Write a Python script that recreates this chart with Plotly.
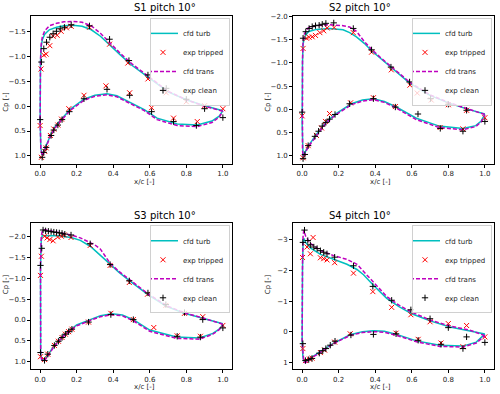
import plotly.graph_objects as go
from plotly.subplots import make_subplots

# ---- S1 ----
s1_up_x = [0.0, 0.002, 0.006, 0.012, 0.025, 0.05, 0.09, 0.13, 0.18, 0.23, 0.28, 0.33, 0.38, 0.44, 0.5, 0.6, 0.7, 0.8, 0.9, 0.95, 1.0]
s1_turb_up = [0.3, -0.9, -1.2, -1.34, -1.45, -1.54, -1.59, -1.62, -1.63, -1.61, -1.54, -1.41, -1.24, -1.03, -0.83, -0.56, -0.29, -0.13, -0.01, 0.04, 0.09]
s1_trans_up = [0.3, -0.95, -1.25, -1.40, -1.52, -1.62, -1.67, -1.70, -1.71, -1.69, -1.62, -1.47, -1.28, -1.06, -0.86, -0.58, -0.30, -0.13, 0.0, 0.05, 0.1]
s1_lo_x = [0.0, 0.004, 0.012, 0.025, 0.056, 0.08, 0.11, 0.166, 0.24, 0.3, 0.366, 0.42, 0.475, 0.57, 0.64, 0.75, 0.86, 0.94, 0.98, 1.0]
s1_turb_lo = [0.3, 0.85, 0.98, 0.86, 0.59, 0.43, 0.29, 0.06, -0.14, -0.22, -0.25, -0.21, -0.11, 0.07, 0.24, 0.36, 0.38, 0.30, 0.2, 0.09]
s1_trans_lo = [0.3, 0.87, 1.0, 0.88, 0.61, 0.45, 0.31, 0.08, -0.12, -0.2, -0.23, -0.19, -0.09, 0.09, 0.27, 0.39, 0.41, 0.33, 0.22, 0.1]
s1_trip_x = [0.005, 0.02, 0.033, 0.053, 0.071, 0.093, 0.115, 0.144, 0.17, 0.27, 0.38, 0.48, 0.59, 0.69, 0.8, 0.9, 1.0,
             0.0, 0.007, 0.025, 0.033, 0.056, 0.075, 0.097, 0.117, 0.157, 0.24, 0.36, 0.49, 0.61, 0.73, 0.86]
s1_trip_cp = [-0.75, -1.03, -1.05, -1.22, -1.41, -1.43, -1.51, -1.58, -1.61, -1.59, -1.25, -0.87, -0.55, -0.27, -0.09, -0.01, 0.05,
              0.39, 1.03, 0.91, 0.84, 0.59, 0.46, 0.38, 0.26, 0.05, -0.22, -0.41, -0.27, 0.03, 0.24, 0.31]
s1_clean_x = [0.007, 0.02, 0.035, 0.053, 0.071, 0.089, 0.11, 0.133, 0.17, 0.27, 0.38, 0.486, 0.59, 0.69, 0.8, 0.9, 1.0,
              0.0, 0.011, 0.02, 0.033, 0.06, 0.075, 0.097, 0.12, 0.16, 0.24, 0.366, 0.49, 0.61, 0.73, 0.855]
s1_clean_cp = [-0.89, -1.16, -1.29, -1.39, -1.46, -1.51, -1.56, -1.59, -1.64, -1.62, -1.35, -0.92, -0.63, -0.36, -0.14, 0.05, 0.23,
               0.27, 1.03, 0.93, 0.83, 0.59, 0.48, 0.38, 0.27, 0.11, -0.15, -0.34, -0.22, 0.11, 0.31, 0.39]

# ---- S2 ----
s2_up_x = [0.0, 0.002, 0.005, 0.012, 0.033, 0.078, 0.15, 0.224, 0.26, 0.297, 0.34, 0.38, 0.43, 0.48, 0.59, 0.7, 0.8, 0.9, 0.95, 1.0]
s2_turb_up = [0.3, -1.0, -1.39, -1.55, -1.67, -1.72, -1.74, -1.71, -1.65, -1.56, -1.42, -1.26, -1.09, -0.92, -0.56, -0.3, -0.14, -0.01, 0.05, 0.1]
s2_trans_up = [0.3, -1.05, -1.45, -1.62, -1.75, -1.80, -1.82, -1.80, -1.77, -1.68, -1.46, -1.29, -1.11, -0.94, -0.58, -0.31, -0.15, -0.02, 0.05, 0.11]
s2_lo_x = [0.0, 0.002, 0.005, 0.015, 0.033, 0.078, 0.133, 0.19, 0.27, 0.33, 0.39, 0.45, 0.515, 0.625, 0.75, 0.88, 0.95, 0.98, 1.0]
s2_turb_lo = [0.3, 0.85, 1.0, 0.93, 0.79, 0.54, 0.26, 0.08, -0.12, -0.2, -0.23, -0.17, -0.05, 0.19, 0.36, 0.41, 0.35, 0.25, 0.11]
s2_trans_lo = [0.3, 0.86, 1.01, 0.95, 0.81, 0.56, 0.28, 0.1, -0.1, -0.18, -0.21, -0.15, -0.03, 0.22, 0.39, 0.44, 0.37, 0.27, 0.12]
s2_trip_x = [0.005, 0.024, 0.038, 0.055, 0.073, 0.097, 0.118, 0.137, 0.175, 0.28, 0.38, 0.488, 0.59, 0.63, 0.707, 0.8, 0.9, 1.0,
             0.0, 0.005, 0.033, 0.078, 0.106, 0.128, 0.15, 0.265, 0.39, 0.51, 0.755, 0.88]
s2_trip_cp = [-1.31, -1.53, -1.55, -1.56, -1.59, -1.65, -1.69, -1.75, -1.76, -1.65, -1.23, -0.85, -0.52, -0.35, -0.2, -0.1, 0.02, 0.18,
              0.14, 1.04, 0.78, 0.56, 0.40, 0.26, 0.09, -0.14, -0.25, -0.06, 0.39, 0.42]
s2_clean_x = [0.005, 0.02, 0.038, 0.055, 0.073, 0.093, 0.11, 0.13, 0.173, 0.28, 0.38, 0.486, 0.588, 0.703, 0.8, 0.9, 1.0,
              0.0, 0.005, 0.015, 0.033, 0.07, 0.09, 0.11, 0.13, 0.15, 0.18, 0.26, 0.39, 0.51, 0.634, 0.756, 0.88]
s2_clean_cp = [-1.53, -1.67, -1.74, -1.78, -1.80, -1.81, -1.83, -1.85, -1.86, -1.74, -1.28, -0.91, -0.59, -0.23, -0.11, 0.02, 0.26,
               0.06, 1.06, 0.97, 0.78, 0.58, 0.47, 0.36, 0.28, 0.21, 0.11, -0.12, -0.23, -0.05, 0.1, 0.41, 0.47]

# ---- S3 ----
s3_up_x = [0.0, 0.002, 0.006, 0.012, 0.02, 0.05, 0.1, 0.17, 0.22, 0.274, 0.3, 0.33, 0.36, 0.383, 0.43, 0.49, 0.59, 0.69, 0.79, 0.89, 0.95, 1.0]
s3_turb_up = [0.3, -1.2, -1.9, -2.04, -2.02, -2.02, -2.02, -1.98, -1.91, -1.77, -1.68, -1.56, -1.43, -1.34, -1.15, -0.94, -0.61, -0.33, -0.16, -0.04, 0.03, 0.09]
s3_trans_up = [0.3, -1.3, -2.0, -2.14, -2.17, -2.14, -2.1, -2.04, -1.97, -1.86, -1.8, -1.7, -1.52, -1.36, -1.17, -0.96, -0.63, -0.35, -0.17, -0.05, 0.03, 0.1]
s3_lo_x = [0.0, 0.003, 0.008, 0.02, 0.04, 0.074, 0.129, 0.2, 0.274, 0.33, 0.392, 0.45, 0.51, 0.6, 0.746, 0.873, 0.945, 0.98, 1.0]
s3_turb_lo = [0.3, 0.8, 0.93, 0.97, 0.86, 0.63, 0.36, 0.12, -0.01, -0.1, -0.15, -0.12, -0.01, 0.24, 0.41, 0.43, 0.32, 0.22, 0.11]
s3_trans_lo = [0.3, 0.82, 0.95, 0.99, 0.88, 0.65, 0.38, 0.14, 0.01, -0.08, -0.13, -0.1, 0.02, 0.27, 0.44, 0.46, 0.34, 0.23, 0.12]
s3_trip_x = [0.002, 0.007, 0.024, 0.038, 0.053, 0.071, 0.096, 0.116, 0.132, 0.169, 0.274, 0.383, 0.488, 0.588, 0.688, 0.79, 0.89, 1.0,
             0.002, 0.024, 0.042, 0.078, 0.1, 0.12, 0.138, 0.156, 0.174, 0.265, 0.387, 0.51, 0.622, 0.75, 0.877]
s3_trip_cp = [-1.07, -1.53, -2.01, -1.97, -1.93, -1.90, -1.99, -2.01, -2.04, -1.98, -1.79, -1.31, -0.90, -0.62, -0.35, -0.16, -0.08, 0.13,
              0.88, 0.95, 0.82, 0.61, 0.51, 0.42, 0.34, 0.28, 0.22, 0.05, -0.16, -0.01, 0.18, 0.38, 0.39]
s3_clean_x = [0.002, 0.009, 0.016, 0.03, 0.045, 0.06, 0.075, 0.09, 0.105, 0.12, 0.135, 0.169, 0.274, 0.383, 0.488, 0.59, 0.688, 0.79, 0.89, 1.0,
              0.002, 0.024, 0.042, 0.078, 0.1, 0.12, 0.138, 0.156, 0.174, 0.265, 0.387, 0.51, 0.75, 0.877]
s3_clean_cp = [-1.31, -1.72, -2.16, -2.14, -2.13, -2.12, -2.11, -2.10, -2.09, -2.08, -2.06, -2.04, -1.83, -1.33, -0.94, -0.65, -0.37, -0.18, -0.01, 0.19,
               0.78, 0.97, 0.82, 0.61, 0.51, 0.42, 0.34, 0.28, 0.22, 0.05, -0.13, -0.01, 0.39, 0.41]

# ---- S4 ----
s4_up_x = [0.0, 0.002, 0.005, 0.009, 0.02, 0.045, 0.1, 0.172, 0.245, 0.3, 0.336, 0.39, 0.463, 0.53, 0.6, 0.7, 0.81, 0.917, 1.0]
s4_turb_up = [0.3, -2.0, -2.9, -3.04, -2.9, -2.73, -2.52, -2.36, -2.2, -2.03, -1.86, -1.52, -1.09, -0.82, -0.59, -0.36, -0.16, -0.04, 0.07]
s4_trans_up = [0.3, -2.2, -3.1, -3.3, -3.1, -2.88, -2.65, -2.48, -2.36, -2.2, -1.99, -1.62, -1.15, -0.87, -0.64, -0.39, -0.19, -0.06, 0.12]
s4_lo_x = [0.0, 0.004, 0.009, 0.018, 0.045, 0.1, 0.172, 0.263, 0.33, 0.39, 0.45, 0.517, 0.626, 0.753, 0.88, 0.953, 1.0]
s4_turb_lo = [0.3, 0.8, 0.94, 0.98, 0.85, 0.64, 0.36, 0.09, -0.01, -0.04, -0.02, 0.08, 0.29, 0.43, 0.46, 0.33, 0.07]
s4_trans_lo = [0.3, 0.82, 0.96, 1.0, 0.87, 0.66, 0.38, 0.11, 0.02, -0.01, 0.01, 0.11, 0.32, 0.47, 0.49, 0.36, 0.12]
s4_trip_x = [0.002, 0.027, 0.045, 0.06, 0.1, 0.118, 0.136, 0.178, 0.281, 0.387, 0.49, 0.595, 0.7, 0.8, 0.9, 1.0,
             0.004, 0.018, 0.04, 0.054, 0.1, 0.123, 0.178, 0.263, 0.514, 0.635, 0.76, 0.88]
s4_trip_cp = [-2.42, -2.76, -2.54, -3.07, -2.41, -2.38, -2.34, -2.25, -1.91, -1.31, -0.8, -0.56, -0.33, -0.27, -0.21, 0.16,
              0.54, 0.93, 0.88, 0.85, 0.67, 0.59, 0.33, 0.06, 0.04, 0.24, 0.36, 0.48]
s4_clean_x = [0.004, 0.013, 0.031, 0.045, 0.064, 0.082, 0.1, 0.118, 0.136, 0.178, 0.281, 0.387, 0.49, 0.595, 0.7, 0.8, 0.9, 1.0,
              0.004, 0.018, 0.036, 0.054, 0.094, 0.113, 0.13, 0.154, 0.18, 0.267, 0.39, 0.514, 0.635, 0.76, 0.88]
s4_clean_cp = [-2.91, -3.31, -2.97, -2.83, -2.76, -2.71, -2.64, -2.59, -2.54, -2.43, -2.15, -1.48, -1.03, -0.72, -0.43, -0.14, 0.16, 0.34,
               0.38, 0.93, 0.9, 0.86, 0.69, 0.61, 0.54, 0.43, 0.3, 0.1, 0.08, 0.06, 0.27, 0.4, 0.54]

titles = ["S1 pitch 10°", "S2 pitch 10°", "S3 pitch 10°", "S4 pitch 10°"]

cases = [
    (s1_up_x, s1_turb_up, s1_trans_up, s1_lo_x, s1_turb_lo, s1_trans_lo, s1_trip_x, s1_trip_cp, s1_clean_x, s1_clean_cp),
    (s2_up_x, s2_turb_up, s2_trans_up, s2_lo_x, s2_turb_lo, s2_trans_lo, s2_trip_x, s2_trip_cp, s2_clean_x, s2_clean_cp),
    (s3_up_x, s3_turb_up, s3_trans_up, s3_lo_x, s3_turb_lo, s3_trans_lo, s3_trip_x, s3_trip_cp, s3_clean_x, s3_clean_cp),
    (s4_up_x, s4_turb_up, s4_trans_up, s4_lo_x, s4_turb_lo, s4_trans_lo, s4_trip_x, s4_trip_cp, s4_clean_x, s4_clean_cp),
]

# layout in pixels of the 500x394 picture
W, H = 500, 394
xdom = [[31 / W, 232 / W], [293 / W, 494 / W]]
ydom = [[1 - 162 / H, 1 - 13 / H], [1 - 369 / H, 1 - 222 / H]]
yranges = [[1.16, -1.82], [1.17, -2.01], [1.18, -2.32], [1.21, -3.53]]
ydticks = [0.5, 0.5, 0.5, 1]
yfmt = [".1f", ".1f", ".1f", "d"]

font = "DejaVu Sans"
fig = make_subplots(rows=2, cols=2)

for i, c in enumerate(cases):
    up_x, turb_up, trans_up, lo_x, turb_lo, trans_lo, trip_x, trip_cp, clean_x, clean_cp = c
    r, col = i // 2 + 1, i % 2 + 1
    leg = "legend" if i == 0 else "legend%d" % (i + 1)
    # closed loop: upper surface TE->LE then lower surface LE->TE
    loop_x = up_x[::-1] + lo_x
    turb = turb_up[::-1] + turb_lo
    trans = trans_up[::-1] + trans_lo
    fig.add_trace(go.Scatter(x=loop_x, y=turb, mode="lines", name="cfd turb",
                             line=dict(color="#00bfbf", width=1.5), legend=leg), row=r, col=col)
    fig.add_trace(go.Scatter(x=trip_x, y=trip_cp, mode="markers", name="exp tripped",
                             marker=dict(symbol="x-thin", size=5, line=dict(color="red", width=1)),
                             legend=leg), row=r, col=col)
    fig.add_trace(go.Scatter(x=loop_x, y=trans, mode="lines", name="cfd trans",
                             line=dict(color="#bf00bf", width=1.5, dash="4px,2px"), legend=leg), row=r, col=col)
    fig.add_trace(go.Scatter(x=clean_x, y=clean_cp, mode="markers", name="exp clean",
                             marker=dict(symbol="cross-thin", size=4.5, line=dict(color="black", width=1)),
                             legend=leg), row=r, col=col)

    ax = "" if i == 0 else str(i + 1)
    fig.layout["xaxis" + ax].update(domain=xdom[col - 1], range=[-0.05, 1.05], dtick=0.2, tick0=0,
                                    tickformat=".1f")
    fig.layout["yaxis" + ax].update(domain=ydom[r - 1], range=yranges[i], dtick=ydticks[i], tick0=0,
                                    tickformat=yfmt[i])

    x0, x1 = xdom[col - 1]
    y0, y1 = ydom[r - 1]
    fig.add_annotation(text=titles[i], x=(x0 + x1) / 2, y=y1 + 8 / H, xref="paper", yref="paper",
                       showarrow=False, font=dict(size=10, color="black"), yanchor="middle")
    fig.add_annotation(text="x/c [-]", x=(x0 + x1) / 2, y=y0 - 18 / H, xref="paper", yref="paper",
                       showarrow=False, font=dict(size=7, color="#222"), yanchor="middle")
    fig.add_annotation(text="Cp [-]", x=x0 - 25 / W, y=(y0 + y1) / 2, xref="paper", yref="paper",
                       showarrow=False, textangle=-90, font=dict(size=7, color="#222"), xanchor="center")

    fig.layout[leg] = dict(x=x1 - 2 / W, y=y1 - 2 / H, xanchor="right", yanchor="top",
                           bgcolor="rgba(255,255,255,0.8)", bordercolor="#d0d0d0", borderwidth=1,
                           font=dict(size=7, color="#222"), itemwidth=30, tracegroupgap=0,
                           indentation=-8)

fig.update_xaxes(showgrid=False, zeroline=False, showline=True, mirror=True, linecolor="black", linewidth=1,
                 ticks="outside", ticklen=3, tickcolor="black", tickfont=dict(size=7, color="#222"))
fig.update_yaxes(showgrid=False, zeroline=False, showline=True, mirror=True, linecolor="black", linewidth=1,
                 ticks="outside", ticklen=3, tickcolor="black", tickfont=dict(size=7, color="#222"))

fig.update_layout(width=W, height=H, margin=dict(l=0, r=0, t=0, b=0), plot_bgcolor="white",
                  paper_bgcolor="white", font=dict(family=font), showlegend=True)

# drop the browser's default page margin so the figure sits at the window corner
fig.write_html("out.html", config={"displayModeBar": False},
               post_script="document.body.style.margin='0';")
